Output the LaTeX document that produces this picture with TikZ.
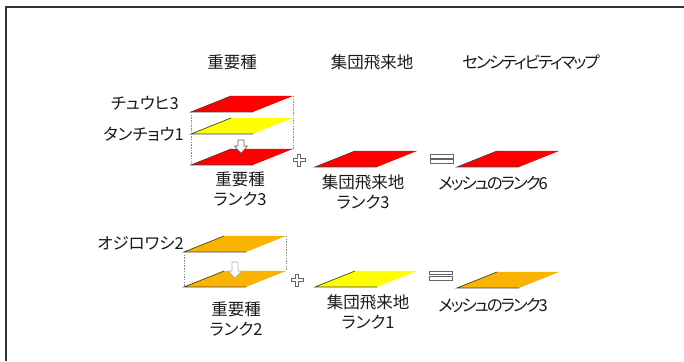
\documentclass[tikz,border=0pt]{standalone}
\usepackage{fontspec}
\setmainfont[RawFeature=+palt]{Noto Sans CJK JP}
\newfontfamily\narrowfont[RawFeature=+palt,LetterSpace=-12]{Noto Sans CJK JP}
\begin{document}
\begin{tikzpicture}[x=1pt,y=1pt,
  lbl/.style={inner sep=0pt,font=\fontsize{16.5}{20}\selectfont,text=black!90},
  nlbl/.style={inner sep=0pt,font=\narrowfont\fontsize{16.5}{20}\selectfont,text=black!90},
  edge/.style={draw=black!75,line width=0.7pt},
  guide/.style={draw=black!45,dash pattern=on 1.5pt off 1.2pt,line width=0.5pt},
  hollow/.style={draw=black!60,fill=white,line width=0.6pt,line join=miter}]
\useasboundingbox (0,0) rectangle (684,361);
\definecolor{cred}{RGB}{255,0,0}
\definecolor{cyel}{RGB}{255,255,0}
\definecolor{corg}{RGB}{250,180,0}
% frame
\draw[black!80,line width=1.4pt] (684,354) -- (6,354) -- (6,0);
% parallelogram macro: name, bottom-left x,y, colour
\newcommand{\mypg}[4]{%
  \fill[#4] (#2,#3) -- (#2+62,#3) -- (#2+102,#3+16) -- (#2+40,#3+16) -- cycle;
  \coordinate (#1bl) at (#2,#3);
  \coordinate (#1br) at (#2+62,#3);
  \coordinate (#1tr) at (#2+102,#3+16);
  \coordinate (#1tl) at (#2+40,#3+16);
  \draw[edge] (#1tl) -- (#1bl) -- (#1br);
}
% headers
\node[lbl] (h1) at (232,299) {重要種};
\node[lbl] (h2) at (372,299) {集団飛来地};
\node[nlbl] (h3) at (531,299) {センシティビティマップ};
% group 1
\mypg{a}{191}{249}{cred}
\mypg{b}{191}{227}{cyel}
\mypg{c}{191}{196}{cred}
\draw[guide] (abl) -- (cbl);
\draw[guide] (atr) -- (ctr);
\draw[hollow] (238,221) -- (244,221) -- (244,215) -- (247.5,215) -- (241,208) -- (234.5,215) -- (238,215) -- cycle;
\node[lbl,anchor=east] (l1) at (179,258) {チュウヒ3};
\node[lbl,anchor=east] (l2) at (184,227) {タンチョウ1};
\node[lbl,align=center] (l3) at (240,172) {重要種\\ランク3};
% plus 1
\draw[hollow] (297.5,207) -- (300.5,207) -- (300.5,202.5) -- (305,202.5) -- (305,199.5) -- (300.5,199.5) -- (300.5,195) -- (297.5,195) -- (297.5,199.5) -- (293,199.5) -- (293,202.5) -- (297.5,202.5) -- cycle;
\mypg{d}{315}{194}{cred}
\node[lbl,align=center] (l4) at (363,169) {集団飛来地\\ランク3};
% equals 1
\draw[hollow] (430,203) rectangle (453,206.5);
\draw[hollow] (430,198) rectangle (453,201.5);
\mypg{e}{457}{194}{cred}
\node[nlbl] (l5) at (493,178) {メッシュのランク6};
% group 2
\mypg{f}{184}{109}{corg}
\mypg{g}{184}{74}{corg}
\draw[guide] (fbl) -- (gbl);
\draw[guide] (ftr) -- (gtr);
\draw[draw=black!30,fill=white,line width=0.6pt] (232,99) -- (238,99) -- (238,90) -- (241.5,90) -- (235,83) -- (228.5,90) -- (232,90) -- cycle;
\node[lbl,anchor=east] (l6) at (184,118) {オジロワシ2};
\node[lbl,align=center] (l7) at (236,42) {重要種\\ランク2};
% plus 2
\draw[hollow] (295.5,87) -- (298.5,87) -- (298.5,82.5) -- (303,82.5) -- (303,79.5) -- (298.5,79.5) -- (298.5,75) -- (295.5,75) -- (295.5,79.5) -- (291,79.5) -- (291,82.5) -- (295.5,82.5) -- cycle;
\mypg{h}{315}{74}{cyel}
\node[lbl,align=center] (l8) at (368,49) {集団飛来地\\ランク1};
% equals 2
\draw[hollow] (429,86.5) rectangle (452,90);
\draw[hollow] (429,81) rectangle (452,84.5);
\mypg{i}{457}{73}{corg}
\node[nlbl] (l9) at (493,56) {メッシュのランク3};
\end{tikzpicture}
\end{document}
